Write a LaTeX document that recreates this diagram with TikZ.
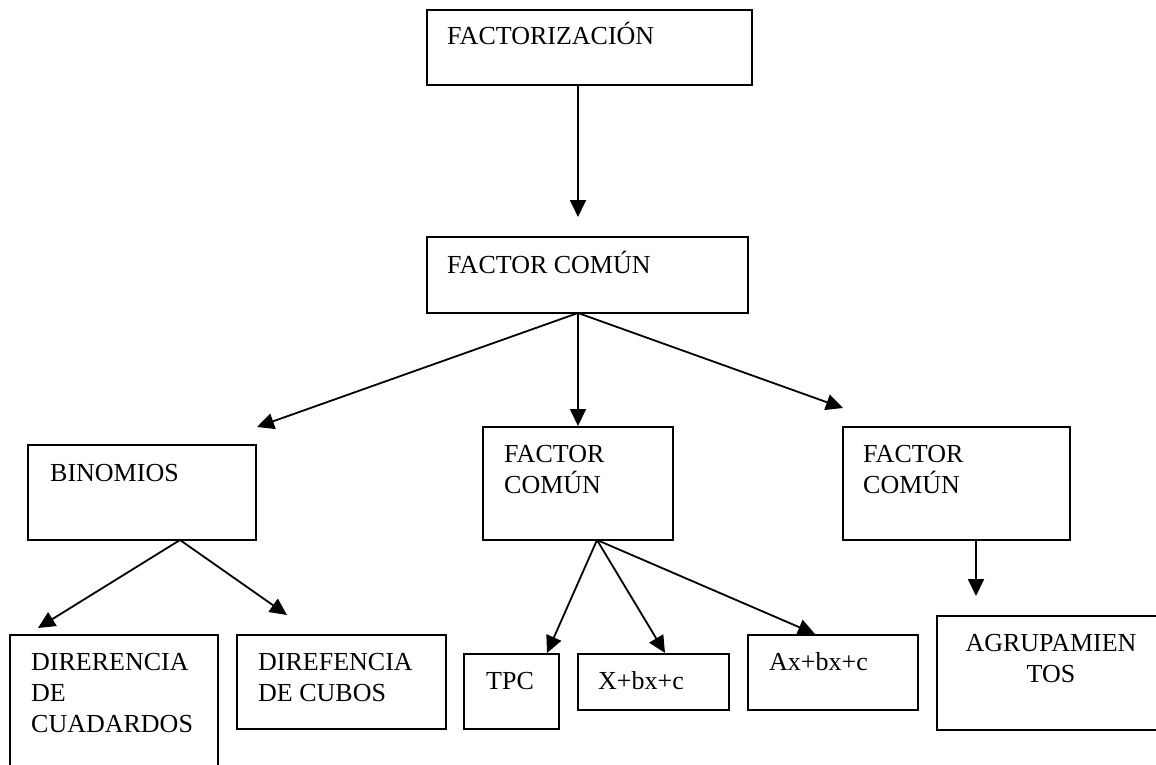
\documentclass[tikz,border=0pt]{standalone}
\usepackage{fontspec}
\setmainfont{Liberation Serif}
\usetikzlibrary{arrows.meta,calc}
\tikzset{
  box/.style={draw, line width=2pt, inner sep=0pt, outer sep=0pt, anchor=north west},
  lbl/.style={font=\fontsize{26}{31}\selectfont, inner sep=0pt, anchor=base west, align=left},
  clbl/.style={font=\fontsize{26}{31}\selectfont, inner sep=0pt, anchor=base, align=center},
  arr/.style={-{Triangle[length=17pt,width=16pt]}, line width=1.8pt}
}
\begin{document}
\begin{tikzpicture}[x=1pt,y=-1pt]
\useasboundingbox (0,0) rectangle (1156,765);
\clip (0,0) rectangle (1156,765);
% boxes
\node[box, minimum width=325pt, minimum height=75pt] (fact) at (427,10) {};
\node[box, minimum width=321pt, minimum height=76pt] (fc) at (427,237) {};
\node[box, minimum width=228pt, minimum height=95pt] (bin) at (28,445) {};
\node[box, minimum width=190pt, minimum height=113pt] (fcm) at (483,427) {};
\node[box, minimum width=227pt, minimum height=113pt] (fcr) at (843,427) {};
\node[box, minimum width=208pt, minimum height=150pt] (dcu) at (10,635) {};
\node[box, minimum width=209pt, minimum height=94pt] (dcb) at (237,635) {};
\node[box, minimum width=95pt, minimum height=75pt] (tpc) at (464,654) {};
\node[box, minimum width=151pt, minimum height=56pt] (xbx) at (578,654) {};
\node[box, minimum width=170pt, minimum height=75pt] (abx) at (748,635) {};
\node[box, minimum width=240pt, minimum height=114pt] (agr) at (937,616) {};
% texts (multi-line nodes are anchored at the baseline of their last line)
\node[lbl] (tfact) at (447,45) {FACTORIZACIÓN};
\node[lbl] (tfc) at (447,273) {FACTOR COMÚN};
\node[lbl] (tbin) at (50,481) {BINOMIOS};
\node[lbl] (tfcm) at (504,493) {FACTOR\\COMÚN};
\node[lbl] (tfcr) at (863,493) {FACTOR\\COMÚN};
\node[lbl] (tdcu) at (31,732) {DIRERENCIA\\DE\\CUADARDOS};
\node[lbl] (tdcb) at (258,701) {DIREFENCIA\\DE CUBOS};
\node[lbl] (ttpc) at (486,689) {TPC};
\node[lbl] (txbx) at (598,689) {X+bx+c};
\node[lbl] (tabx) at (769,670) {Ax+bx+c};
\node[clbl] (tagr) at (1051,682) {AGRUPAMIEN\\TOS};
% arrow tips
\coordinate (pfc) at (578,217);
\coordinate (pbin) at (257,427);
\coordinate (pfcm) at (578,426);
\coordinate (pfcr) at (843,408);
\coordinate (pdcu) at (38,628);
\coordinate (pdcb) at (287,615);
\coordinate (ptpc) at (547,653);
\coordinate (pxbx) at (665,653);
\coordinate (pabx) at (815,634);
\coordinate (pagr) at (976,596);
% connectors
\draw[arr] ([xshift=-11.5pt]fact.south) -- (pfc);
\draw[arr] ([xshift=-9.5pt]fc.south) -- (pbin);
\draw[arr] ([xshift=-9.5pt]fc.south) -- (pfcm);
\draw[arr] ([xshift=-9.5pt]fc.south) -- (pfcr);
\draw[arr] ([xshift=38pt]bin.south) -- (pdcu);
\draw[arr] ([xshift=38pt]bin.south) -- (pdcb);
\draw[arr] ([xshift=19pt]fcm.south) -- (ptpc);
\draw[arr] ([xshift=19pt]fcm.south) -- (pxbx);
\draw[arr] ([xshift=19pt]fcm.south) -- (pabx);
\draw[arr] ([xshift=19.5pt]fcr.south) -- (pagr);
\end{tikzpicture}
\end{document}
